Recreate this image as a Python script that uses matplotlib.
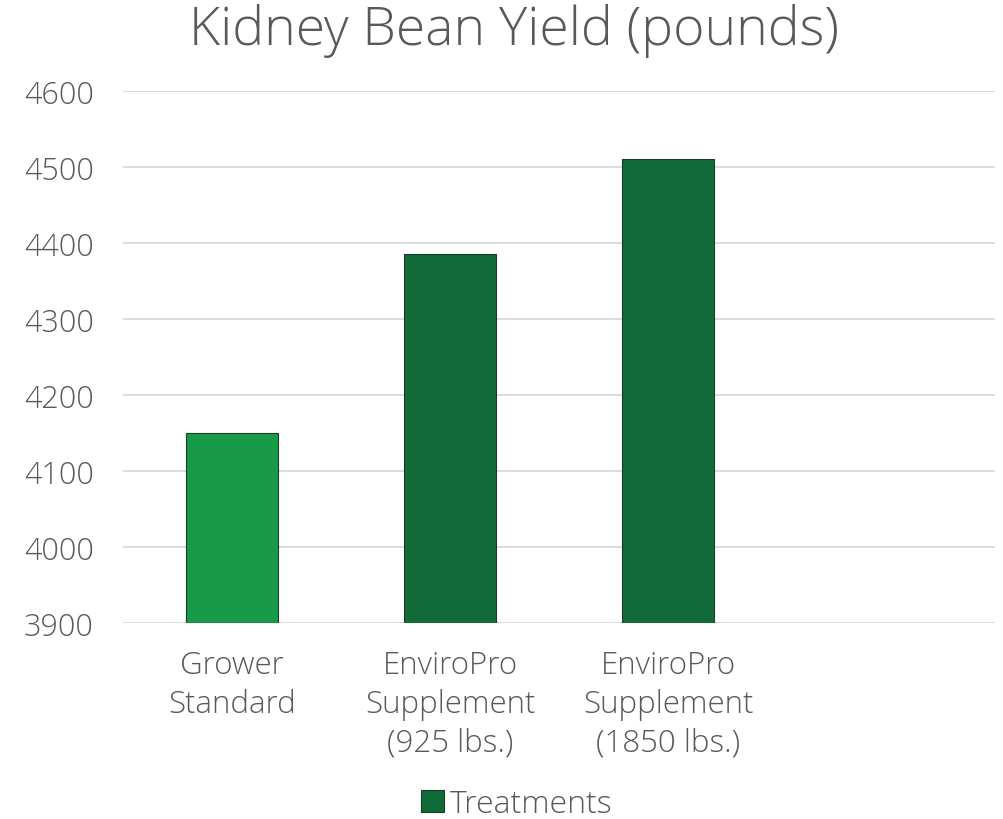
import matplotlib
matplotlib.use("Agg")
import matplotlib.pyplot as plt
from matplotlib.patches import Patch

categories = ["Grower\nStandard", "EnviroPro\nSupplement\n(925 lbs.)", "EnviroPro\nSupplement\n(1850 lbs.)", ""]
values = [4150, 4385, 4510]
colors = ["#189B48", "#106B38", "#106B38"]
yticks = [3900, 4000, 4100, 4200, 4300, 4400, 4500, 4600]
title = "Kidney Bean Yield (pounds)"
legend_label = "Treatments"

plt.rcParams['font.family'] = ['Open Sans', 'DejaVu Sans']
plt.rcParams['font.weight'] = 'light'
txt = "#595959"

fig = plt.figure(figsize=(10.04, 8.20), dpi=100)
ax = fig.add_axes([123/1004, 1-624/820, (995-123)/1004, (624-92)/820])

x = list(range(len(values)))
ax.bar(x, [v - 3900 for v in values], bottom=3900, width=0.42, color=colors,
       edgecolor="#1e3a26", linewidth=0.8, zorder=3)

ax.set_xlim(-0.5, 3.5)
ax.set_ylim(3900, 4600)
ax.set_yticks(yticks)
ax.set_yticklabels([str(t) for t in yticks], fontsize=22, color=txt)
ax.set_xticks(range(len(categories)))
ax.set_xticklabels(categories, fontsize=22.5, color=txt, linespacing=1.28)
ax.tick_params(axis='both', length=0)
ax.tick_params(axis='y', pad=21)
ax.tick_params(axis='x', pad=19)
ax.grid(axis='y', color="#d9d9d9", linewidth=1.3, zorder=0)
for s in ax.spines.values():
    s.set_visible(False)

fig.text(0.512, 1-31/820, title, ha='center', va='center', fontsize=38.5, color=txt)

handle = Patch(facecolor="#106B38", edgecolor="#1e3a26", linewidth=0.8)
fig.legend([handle], [legend_label], loc='center', bbox_to_anchor=(0.515, 1-805/820),
           frameon=False, fontsize=23, handlelength=0.7, handleheight=0.7,
           handletextpad=0.2, labelcolor=txt)

fig.savefig("out.png", dpi=100)
